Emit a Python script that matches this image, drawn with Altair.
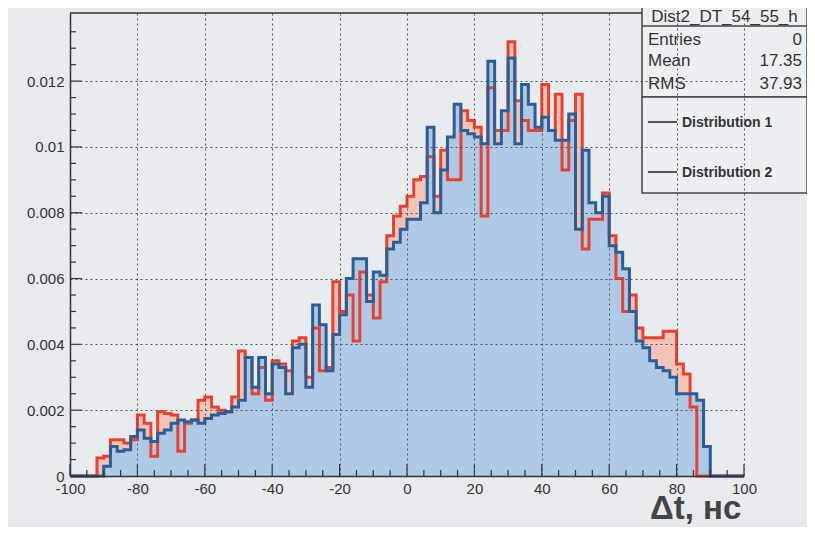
import altair as alt
import pandas as pd

# ---- data ----
edges = list(range(-100, 100, 2))          # left edge of each 2-unit bin
red = [0, 0, 0, 0, 0.00055, 0.0006, 0.0011, 0.0011, 0.0010, 0.0011,
       0.00185, 0.0016, 0.0006, 0.00195, 0.0019, 0.00185, 0.00075, 0.0016, 0.0017, 0.0023,
       0.0024, 0.0021, 0.0020, 0.00195, 0.0024, 0.0038, 0.0036, 0.0025, 0.0033, 0.0023,
       0.0035, 0.0034, 0.0032, 0.0041, 0.0042, 0.0030, 0.0045, 0.0032, 0.0033, 0.0059,
       0.0050, 0.0055, 0.0041, 0.0062, 0.0055, 0.0048, 0.0059, 0.0073, 0.0079, 0.0082,
       0.0085, 0.0090, 0.0091, 0.0097, 0.0085, 0.0099, 0.0090, 0.0090, 0.0111, 0.0108,
       0.0106, 0.0079, 0.0118, 0.0105, 0.0105, 0.0132, 0.0114, 0.0108, 0.0105, 0.0105,
       0.0119, 0.0105, 0.0116, 0.0093, 0.0108, 0.0116, 0.0069, 0.0078, 0.0078, 0.0086,
       0.0073, 0.0060, 0.0050, 0.0055, 0.0045, 0.0042, 0.0042, 0.0042, 0.0044, 0.0044,
       0.0034, 0.0031, 0.0021, 0, 0, 0, 0, 0, 0, 0]
blue = [0, 0, 0, 0, 0, 0.0003, 0.0009, 0.00075, 0.0008, 0.0012,
        0.0014, 0.00115, 0.00105, 0.0013, 0.0014, 0.0016, 0.0017, 0.00165, 0.0017, 0.0016,
        0.00175, 0.00185, 0.0019, 0.00195, 0.0021, 0.0023, 0.0036, 0.0027, 0.0036, 0.0025,
        0.0034, 0.0033, 0.0025, 0.0039, 0.0040, 0.0027, 0.0052, 0.0046, 0.0032, 0.0043,
        0.0049, 0.0060, 0.0066, 0.0066, 0.0053, 0.0062, 0.0061, 0.0069, 0.0071, 0.0075,
        0.0078, 0.0078, 0.0083, 0.0106, 0.0080, 0.0093, 0.0103, 0.0113, 0.0105, 0.0104,
        0.0103, 0.0101, 0.0126, 0.0101, 0.0111, 0.0127, 0.0101, 0.0119, 0.0113, 0.0106,
        0.0109, 0.0105, 0.0102, 0.0102, 0.0110, 0.0075, 0.0099, 0.0083, 0.0080, 0.0085,
        0.0070, 0.0068, 0.0063, 0.0050, 0.0041, 0.0039, 0.0035, 0.0033, 0.0032, 0.0030,
        0.0025, 0.0025, 0.0025, 0.0023, 0.0009, 0, 0, 0, 0, 0]

x_major = list(range(-100, 101, 20))
x_minor = [v for v in range(-100, 101, 5) if v % 20 != 0]
y_major = [0, 0.002, 0.004, 0.006, 0.008, 0.010, 0.012]
y_minor = [0.0005 * k for k in range(1, 29) if k % 4 != 0]

stats_title = "Dist2_DT_54_55_h"
stats_names = ["Entries", "Mean", "RMS"]
stats_vals = ["0", "17.35", "37.93"]
legend_names = ["Distribution 1", "Distribution 2"]

W, H = 674, 463
YMAX = 0.01407
BG = "#e7ebee"
FONT = "Liberation Sans"

def step_df(vals):
    return pd.DataFrame({"x": edges + [100], "v": vals + [vals[-1]]})

xs = alt.Scale(domain=[-100, 100], nice=False, zero=False)
ys = alt.Scale(domain=[0, YMAX], nice=False, zero=True)

xaxis = alt.Axis(values=x_major, labelExpr="toString(datum.value)", grid=True,
                 gridDash=[2, 3], gridColor="#555", gridWidth=1, ticks=False,
                 domainColor="#333", domainWidth=1.5, labelFont=FONT, labelFontSize=15,
                 labelColor="#333", labelPadding=5, labelFlush=False, zindex=1, title=None)
yaxis = alt.Axis(values=y_major,
                 labelExpr="datum.value == 0 ? '0' : format(datum.value, '.3~f')",
                 grid=True, gridDash=[2, 3], gridColor="#555", gridWidth=1, ticks=False,
                 domainColor="#333", domainWidth=1.5, labelFont=FONT, labelFontSize=15,
                 labelColor="#333", labelPadding=6, zindex=1, title=None)

def X(f):
    return alt.X(f, scale=xs, axis=xaxis)

def Y(f):
    return alt.Y(f, scale=ys, axis=yaxis)

dr, db = step_df(red), step_df(blue)

red_area = alt.Chart(dr).mark_area(interpolate="step-after", color="#f1c4b7").encode(
    x=X("x:Q"), y=Y("v:Q"))
blue_area = alt.Chart(db).mark_area(interpolate="step-after", color="#adc9e5").encode(
    x=X("x:Q"), y=Y("v:Q"))
red_line = alt.Chart(dr).mark_line(interpolate="step-after", color="#ea4030",
                                   strokeWidth=3, strokeJoin="miter").encode(
    x=X("x:Q"), y=Y("v:Q"))
blue_line = alt.Chart(db).mark_line(interpolate="step-after", color="#2c5d95",
                                    strokeWidth=3, strokeJoin="miter").encode(
    x=X("x:Q"), y=Y("v:Q"))

# inward ticks
tx_major = alt.Chart(pd.DataFrame({"x": x_major})).mark_rule(color="#333", strokeWidth=1.2).encode(
    x=X("x:Q"), y=alt.value(H), y2=alt.value(H - 12))
tx_minor = alt.Chart(pd.DataFrame({"x": x_minor})).mark_rule(color="#333", strokeWidth=1.2).encode(
    x=X("x:Q"), y=alt.value(H), y2=alt.value(H - 6))
ty_major = alt.Chart(pd.DataFrame({"v": y_major})).mark_rule(color="#333", strokeWidth=1.2).encode(
    y=Y("v:Q"), x=alt.value(0), x2=alt.value(12))
ty_minor = alt.Chart(pd.DataFrame({"v": y_minor})).mark_rule(color="#333", strokeWidth=1.2).encode(
    y=Y("v:Q"), x=alt.value(0), x2=alt.value(6))

one = pd.DataFrame({"a": [0]})

# frame top
frame = alt.Chart(one).mark_rule(color="#333", strokeWidth=1.5).encode(
    x=alt.value(0), x2=alt.value(W), y=alt.value(0))

BX0, BX1 = 572, 737
stats_box = alt.Chart(one).mark_rect(fill="#edf0f2", stroke="#444", strokeWidth=1.5).encode(
    x=alt.value(BX0), x2=alt.value(BX1), y=alt.value(-11), y2=alt.value(84))
title_line = alt.Chart(one).mark_rule(color="#444", strokeWidth=1.5).encode(
    x=alt.value(BX0), x2=alt.value(BX1), y=alt.value(13))
legend_box = alt.Chart(one).mark_rect(fill="#edf0f2", stroke="#444", strokeWidth=1.5).encode(
    x=alt.value(BX0), x2=alt.value(BX1), y=alt.value(84), y2=alt.value(180))

def label(txt, x, y, size=16, align="left", weight="normal", color="#333"):
    return alt.Chart(pd.DataFrame({"t": [txt]})).mark_text(
        font=FONT, fontSize=size, fontWeight=weight, color=color, align=align,
        baseline="alphabetic").encode(text="t:N", x=alt.value(x), y=alt.value(y))

texts = [label(stats_title, (BX0 + BX1) / 2, 9, size=17, align="center")]
for name, val, yy in zip(stats_names, stats_vals, [32, 53, 76]):
    texts.append(label(name, BX0 + 6, yy, size=17))
    texts.append(label(val, BX1 - 5, yy, size=17, align="right"))

leg = []
for name, yy in zip(legend_names, [109, 159]):
    leg.append(alt.Chart(one).mark_rule(color="#222", strokeWidth=1.5).encode(
        x=alt.value(BX0 + 6), x2=alt.value(BX0 + 35), y=alt.value(yy)))
    leg.append(label(name, BX0 + 40, yy + 5, size=14, weight="bold"))

xtitle = label("Δt, нс", 580, 506, size=33, weight="bold", color="#444")

chart = alt.layer(
    red_area, blue_area, red_line, blue_line,
    tx_major, tx_minor, ty_major, ty_minor, frame,
    stats_box, title_line, legend_box, *texts, *leg, xtitle
).properties(
    width=W, height=H,
    padding={"left": 62, "top": 5, "right": 63, "bottom": 51},
    autosize="none", background=BG
).configure_view(stroke=None)

chart.save("out.html", embed_options={"renderer": "svg", "actions": False})
